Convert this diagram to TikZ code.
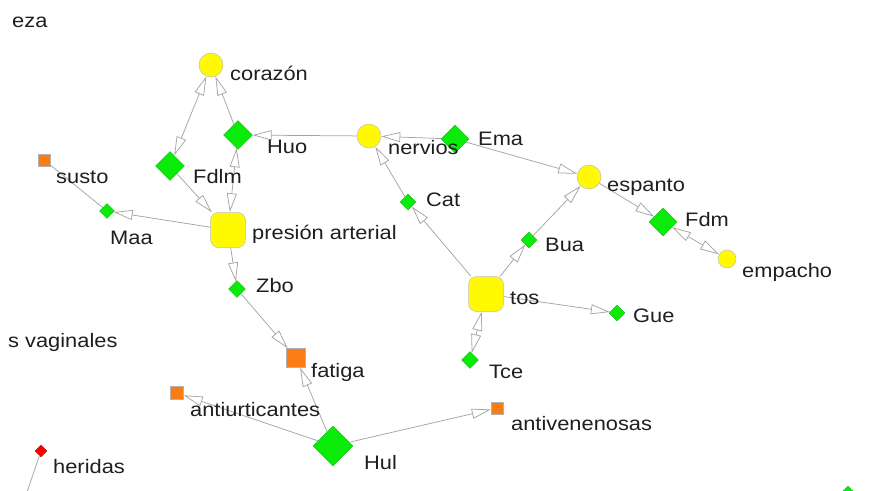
\documentclass[tikz,border=0pt]{standalone}
\usepackage{fontspec}
\setmainfont{Liberation Sans}
\newfontfamily\labfont[FakeStretch=1.12]{Liberation Sans}
\usetikzlibrary{arrows.meta,shapes.geometric}
\definecolor{ygel}{RGB}{255,250,0}
\definecolor{grn}{RGB}{10,235,10}
\definecolor{orng}{RGB}{250,125,20}
\definecolor{edgec}{RGB}{165,165,165}
\begin{document}
\begin{tikzpicture}[x=1pt,y=-1pt,
  ycirc/.style={circle,fill=ygel,draw=black!25,line width=0.5pt,minimum size=#1,inner sep=0pt},
  ysq/.style={rectangle,rounded corners=8pt,fill=ygel,draw=black!25,line width=0.5pt,minimum size=35pt,inner sep=0pt},
  gdia/.style={diamond,aspect=1,fill=grn,draw=grn!80!black,line width=0.3pt,minimum size=#1,inner sep=0pt},
  osq/.style={rectangle,fill=orng,draw=black!30,line width=0.5pt,minimum size=#1,inner sep=0pt},
  rdia/.style={diamond,aspect=1,fill=red,draw=red!70!black,line width=0.3pt,minimum size=12pt,inner sep=0pt},
  lab/.style={anchor=west,inner sep=0pt,font=\labfont\fontsize{19.5}{22}\selectfont,text=black!88},
  edge/.style={draw=edgec,line width=0.75pt},
  arr/.style={edge,-{Triangle[length=19pt,width=10pt,fill=white]}},
  barr/.style={edge,{Triangle[length=19pt,width=10pt,fill=white]}-{Triangle[length=19pt,width=10pt,fill=white]}}
]
\useasboundingbox (0,0) rectangle (870,490);
\fill[white] (0,0) rectangle (870,490);
\clip (0,0) rectangle (870,490);

% nodes
\node[ycirc=24pt] (corazon) at (211,65) {};
\node[gdia=29pt] (Huo) at (238,135) {};
\node[gdia=29pt] (Fdlm) at (170,166) {};
\node[ysq] (presion) at (228,230) {};
\node[osq=12pt] (susto) at (44,160) {};
\node[gdia=15pt] (Maa) at (107,211) {};
\node[gdia=17pt] (Zbo) at (237,289) {};
\node[osq=19pt] (fatiga) at (296,358) {};
\node[osq=13pt] (antiurt) at (177,393) {};
\node[gdia=40pt] (Hul) at (333,446) {};
\node[osq=12pt] (antiven) at (497,408) {};
\node[rdia] (heridas) at (41,451) {};
\coordinate (heridasend) at (26,495);
\node[ycirc=24pt] (nervios) at (369,136) {};
\node[gdia=28pt] (Ema) at (455,139) {};
\node[ycirc=24pt] (espanto) at (589,177) {};
\node[gdia=28pt] (Fdm) at (663,222) {};
\node[ycirc=18pt] (empacho) at (727,259) {};
\node[gdia=16pt] (Cat) at (408,202) {};
\node[gdia=16pt] (Bua) at (529,240) {};
\node[ysq] (tos) at (486,294) {};
\node[gdia=16pt] (Gue) at (617,313) {};
\node[gdia=17pt] (Tce) at (470,360) {};
\node[gdia=16pt] (extra) at (848,494) {};

% edges
\draw[barr] (Fdlm) -- (corazon);
\draw[arr] (Huo) -- (corazon);
\draw[barr] (Huo) -- (presion);
\draw[arr] (Fdlm) -- (presion);
\draw[arr] (presion) -- (Maa);
\draw[edge] (Maa) -- (susto);
\draw[arr] (nervios) -- (Huo);
\draw[arr] (Ema) -- (nervios);
\draw[arr] (Ema) -- (espanto);
\draw[arr] (Cat) -- (nervios);
\draw[arr] (tos) -- (Cat);
\draw[arr] (tos) -- (Bua);
\draw[arr] (Bua) -- (espanto);
\draw[arr] (espanto) -- (Fdm);
\draw[barr] (Fdm) -- (empacho);
\draw[arr] (tos) -- (Gue);
\draw[barr] (tos) -- (Tce);
\draw[arr] (presion) -- (Zbo);
\draw[arr] (Zbo) -- (fatiga);
\draw[arr] (Hul) -- (fatiga);
\draw[arr] (Hul) -- (antiurt);
\draw[arr] (Hul) -- (antiven);
\draw[edge] (heridas) -- (heridasend);

% labels
\node[lab] (l-eza) at (12,22) {eza};
\node[lab] (l-corazon) at (230,73) {corazón};
\node[lab] (l-Huo) at (267,147) {Huo};
\node[lab] (l-Fdlm) at (193,177) {Fdlm};
\node[lab] (l-presion) at (252,234) {presión arterial};
\node[lab] (l-susto) at (56,177) {susto};
\node[lab] (l-Maa) at (110,238) {Maa};
\node[lab] (l-Zbo) at (256,286) {Zbo};
\node[lab] (l-fatiga) at (311,372) {fatiga};
\node[lab] (l-antiurt) at (190,410) {antiurticantes};
\node[lab] (l-Hul) at (364,463) {Hul};
\node[lab] (l-antiven) at (511,424) {antivenenosas};
\node[lab] (l-heridas) at (53,467) {heridas};
\node[lab] (l-vag) at (8,342) {s vaginales};
\node[lab] (l-nervios) at (388,148) {nervios};
\node[lab] (l-Ema) at (478,139) {Ema};
\node[lab] (l-espanto) at (607,187) {espanto};
\node[lab] (l-Fdm) at (685,220) {Fdm};
\node[lab] (l-empacho) at (742,272) {empacho};
\node[lab] (l-Cat) at (426,200) {Cat};
\node[lab] (l-Bua) at (545,245) {Bua};
\node[lab] (l-tos) at (510,298) {tos};
\node[lab] (l-Gue) at (633,316) {Gue};
\node[lab] (l-Tce) at (489,372) {Tce};
\end{tikzpicture}
\end{document}
